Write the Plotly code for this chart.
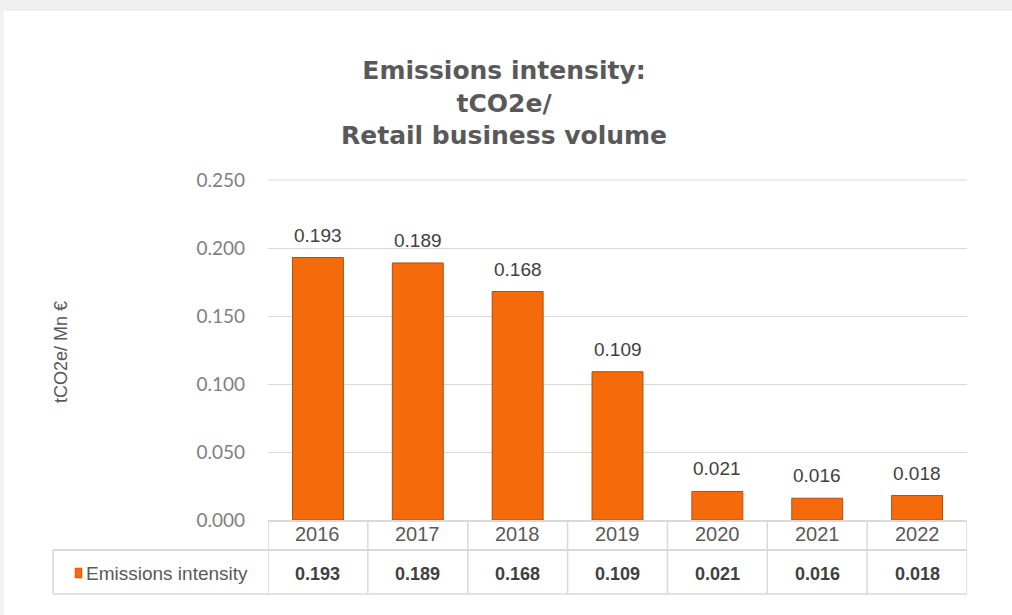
import plotly.graph_objects as go

years = ["2016", "2017", "2018", "2019", "2020", "2021", "2022"]
intensity = [0.193, 0.189, 0.168, 0.109, 0.021, 0.016, 0.018]
series_name = "Emissions intensity"
y_title = "tCO2e/ Mn €"
chart_title = "Emissions intensity:<br>tCO2e/<br>Retail business volume"
y_ticks = [0.0, 0.05, 0.10, 0.15, 0.20, 0.25]

W, H = 1012, 615
L, R, T, B = 268, 967, 180, 520   # plot area in pixels
pw, ph = R - L, B - T


def px(x):
    return (x - L) / pw


def py(y):
    return (B - y) / ph


BAR = "#F56A0A"
BAR_LINE = "#B24E0E"
GRID = "#D9D9D9"
TXT = "#595959"
n = len(years)

fig = go.Figure()
fig.add_trace(go.Bar(
    x=years, y=intensity, name=series_name,
    marker=dict(color=BAR, line=dict(color=BAR_LINE, width=1)),
    width=0.51, showlegend=False, hoverinfo="x+y",
))

annotations = []
for i, v in enumerate(intensity):
    # data labels above bars
    annotations.append(dict(
        x=i, y=v, xref="x", yref="y", text=f"{v:.3f}", showarrow=False,
        yanchor="bottom", yshift=10,
        font=dict(family="Liberation Sans, Arial", size=19, color="#404040"),
    ))
    # table value row
    annotations.append(dict(
        x=i, y=py(574), xref="x", yref="paper", text=f"<b>{v:.3f}</b>",
        showarrow=False, yanchor="middle",
        font=dict(family="Liberation Sans, Arial", size=18, color="#404040"),
    ))
# year row of the table
for i, yr in enumerate(years):
    annotations.append(dict(
        x=i, y=py(534), xref="x", yref="paper", text=yr,
        showarrow=False, yanchor="middle",
        font=dict(family="Liberation Sans, Arial", size=20, color=TXT),
    ))

# title
annotations.append(dict(
    x=px(504), y=py(103), xref="paper", yref="paper", text=chart_title,
    showarrow=False, xanchor="center", yanchor="middle",
    font=dict(family="DejaVu Sans", size=25, color=TXT, weight="bold"),
))
# y axis title
annotations.append(dict(
    x=px(61), y=py(352), xref="paper", yref="paper", text=y_title,
    showarrow=False, textangle=-90, xanchor="center", yanchor="middle",
    font=dict(family="Liberation Sans, Arial", size=18, color=TXT),
))
# legend label in table
annotations.append(dict(
    x=px(84), y=py(573), xref="paper", yref="paper", text=series_name,
    showarrow=False, xanchor="left", yanchor="middle",
    font=dict(family="Liberation Sans, Arial", size=19, color=TXT),
))

shapes = []
# background chrome: top strip and left strip
shapes.append(dict(type="rect", xref="paper", yref="paper",
                   x0=px(0), x1=px(W), y0=py(10), y1=py(0),
                   fillcolor="#F0F0F0", line=dict(width=0), layer="below"))
shapes.append(dict(type="line", xref="paper", yref="paper",
                   x0=px(5), x1=px(W), y0=py(10), y1=py(10),
                   line=dict(color="#E4E4E4", width=1), layer="below"))
shapes.append(dict(type="rect", xref="paper", yref="paper",
                   x0=px(0), x1=px(4), y0=py(H), y1=py(10),
                   fillcolor="#F2F2F2", line=dict(width=0), layer="below"))
# top gridline at the upper edge of the plot area
shapes.append(dict(type="line", xref="paper", yref="paper",
                   x0=0, x1=1, y0=1, y1=1,
                   line=dict(color=GRID, width=1), layer="below"))

# table grid: vertical lines at category boundaries
for i in range(n + 1):
    shapes.append(dict(type="line", xref="x", yref="paper",
                       x0=i - 0.5, x1=i - 0.5, y0=0, y1=py(594),
                       line=dict(color=GRID, width=1.5)))
# left border of legend cell
shapes.append(dict(type="line", xref="paper", yref="paper",
                   x0=px(53), x1=px(53), y0=py(550), y1=py(594),
                   line=dict(color=GRID, width=1.5)))
# horizontal lines
shapes.append(dict(type="line", xref="paper", yref="paper",
                   x0=px(53), x1=1, y0=py(550), y1=py(550),
                   line=dict(color=GRID, width=2)))
shapes.append(dict(type="line", xref="paper", yref="paper",
                   x0=px(53), x1=1, y0=py(594), y1=py(594),
                   line=dict(color=GRID, width=1.5)))
# legend marker
shapes.append(dict(type="rect", xref="paper", yref="paper",
                   x0=px(75), x1=px(82), y0=py(578), y1=py(568),
                   fillcolor=BAR, line=dict(color=BAR_LINE, width=0.5)))

fig.update_layout(
    width=W, height=H,
    margin=dict(l=L, r=W - R, t=T, b=H - B, pad=0),
    paper_bgcolor="white", plot_bgcolor="white",
    annotations=annotations, shapes=shapes,
    bargap=0.49,
    xaxis=dict(
        type="category", range=[-0.5, n - 0.5], autorange=False,
        showgrid=False, showline=True, linecolor=GRID,
        linewidth=1.5, ticks="", showticklabels=False,
        fixedrange=True,
    ),
    yaxis=dict(
        range=[0, 0.25], autorange=False, tickvals=y_ticks, tickformat=".3f",
        showgrid=True, gridcolor=GRID, gridwidth=1, zeroline=False,
        showline=False, ticks="", ticklabelstandoff=22,
        tickfont=dict(family="Lato, Liberation Sans", size=19, color="#7F7F7F"),
        fixedrange=True,
    ),
    font=dict(family="Liberation Sans, Arial", color=TXT),
)

fig.write_html("out.html")
